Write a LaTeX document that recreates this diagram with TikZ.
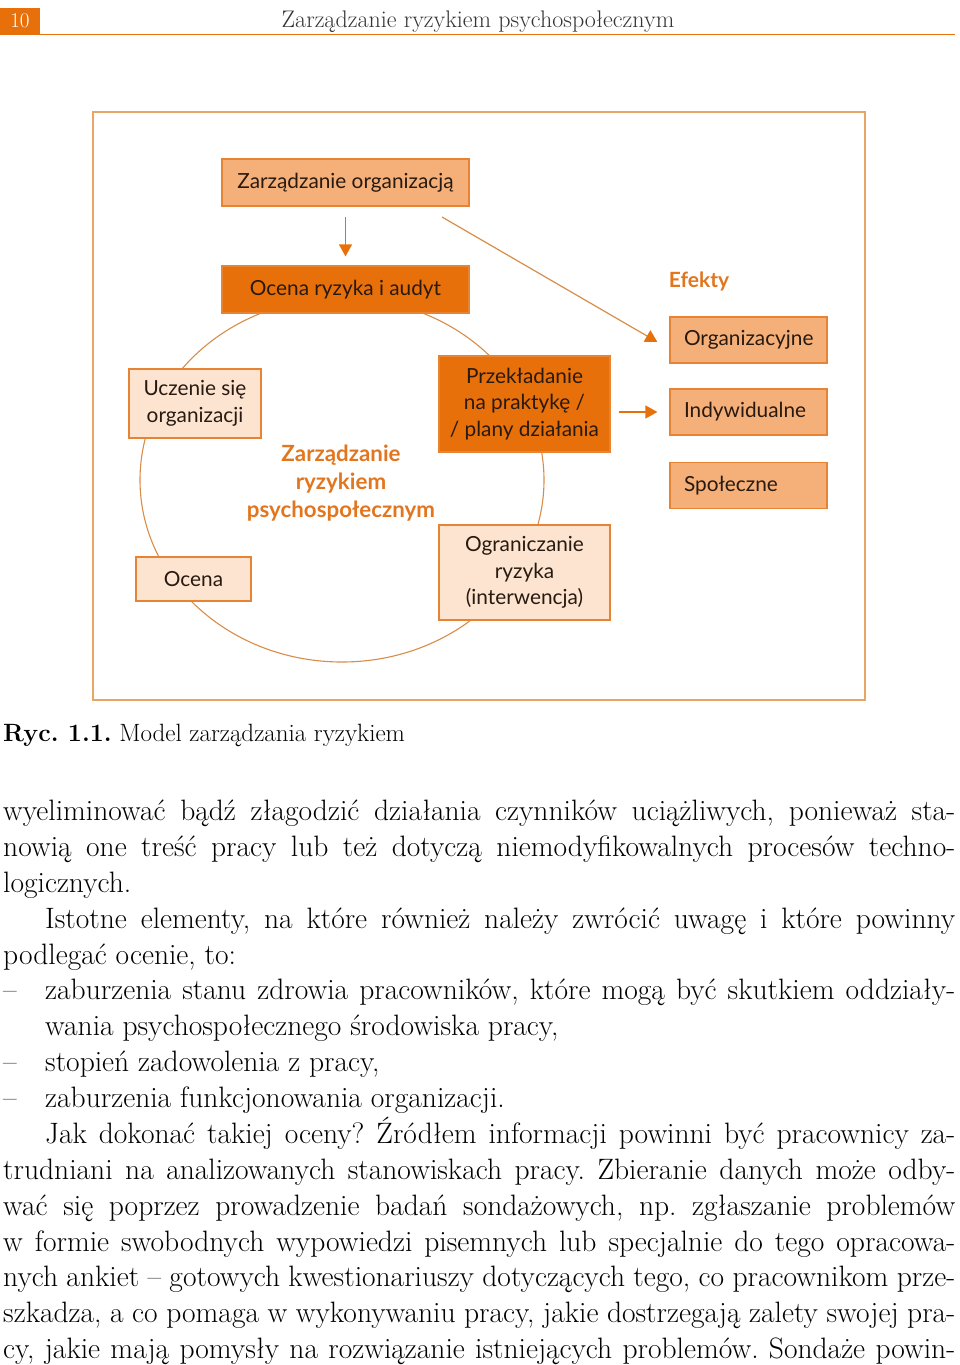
\documentclass[tikz,border=0pt]{standalone}
\usepackage{fontspec}
\newfontfamily\diagfont{Lato}
\usepackage{tikz}
\usetikzlibrary{positioning, arrows.meta}
\definecolor{orangeDark}{RGB}{232, 112, 10}
\definecolor{orangeLight}{RGB}{245, 176, 122}
\definecolor{orangePale}{RGB}{252, 228, 208}
\definecolor{boxLine}{RGB}{230, 132, 52}
\definecolor{frameLine}{RGB}{232, 165, 100}
\definecolor{ringLine}{RGB}{216, 140, 72}
\definecolor{labelOrange}{RGB}{226, 118, 30}
\definecolor{textDark}{RGB}{40, 26, 16}
\frenchspacing

\begin{document}
\begin{tikzpicture}[
    x=1pt, y=-1pt,
    base/.style={draw=boxLine, line width=1.2pt, align=center, inner sep=0pt,
                 text=textDark, font=\diagfont\fontsize{20.8}{26.5}\selectfont},
    darkbox/.style={base, fill=orangeDark},
    lightbox/.style={base, fill=orangeLight},
    palebox/.style={base, fill=orangePale},
    effbox/.style={lightbox, align=left, text width=129pt, inner xsep=14pt,
                   minimum height=46pt},
    arr/.style={-{Triangle[width=13pt,length=12pt]}, draw=orangeDark, line width=1.2pt},
    bodyline/.style={anchor=base west, inner sep=0pt, text=black,
                     font=\fontsize{29.5}{36}\selectfont},
  ]
    \useasboundingbox (0,0) rectangle (960,1365);

    % page header
    \node[fill=orangeDark, text=white, minimum width=40pt, minimum height=26pt,
          inner sep=0pt, font=\fontsize{21}{22}\selectfont] (pagenum) at (20,21) {10};
    \node[text=black!80, font=\fontsize{24}{26}\selectfont] (runhead) at (478,22)
      {Zarządzanie ryzykiem psychospołecznym};
    \draw[orangeDark, line width=1.5pt] (0,34.5) -- (955,34.5);

    % figure frame and cycle
    \draw[frameLine, line width=1.2pt] (93,112) rectangle (865,700);
    \draw[ringLine, line width=1.1pt] (342,480) ellipse [x radius=202, y radius=182];

    % boxes
    \node[lightbox, minimum width=247pt, minimum height=47pt] (org) at (345.5,182.5)
      {Zarządzanie organizacją};
    \node[darkbox, minimum width=247pt, minimum height=47pt] (audit) at (345.5,289.5)
      {Ocena ryzyka i audyt};
    \node[darkbox, minimum width=171pt, minimum height=96pt] (plan) at (524.5,404)
      {Przekładanie\\na praktykę /\\/ plany działania};
    \node[palebox, minimum width=171pt, minimum height=95pt] (limit) at (524.5,572.5)
      {Ograniczanie\\ryzyka\\(interwencja)};
    \node[palebox, minimum width=132pt, minimum height=69pt] (learn) at (195,403.5)
      {Uczenie się\\organizacji};
    \node[palebox, minimum width=115pt, minimum height=44pt] (assess) at (193.5,579)
      {Ocena};
    \node[text=labelOrange, align=center, font=\diagfont\bfseries\fontsize{22.3}{28}\selectfont]
      (core) at (341,483) {Zarządzanie\\ryzykiem\\psychospołecznym};

    % effects
    \node[text=labelOrange, font=\diagfont\bfseries\fontsize{21}{24}\selectfont]
      (effects) at (699,281) {Efekty};
    \node[effbox] (effOrg) at (748.5,340) {Organizacyjne};
    \node[effbox] (effInd) at (748.5,412) {Indywidualne};
    \node[effbox] (effSoc) at (748.5,485.5) {Społeczne};

    % arrows
    \coordinate (orgTail) at (442,217);
    \draw[arr, shorten <=10pt, shorten >=9pt] (org) -- (audit);
    \draw[-{Triangle[width=13pt,length=12pt,color=orangeDark]}, draw=ringLine, line width=1.2pt]
      (orgTail) -- ([xshift=-12pt, yshift=-2pt]effOrg.west);
    \draw[arr, shorten <=8pt, shorten >=12pt] (plan.east |- effInd.west) -- (effInd.west);

    % caption
    \node[bodyline, font=\fontsize{25}{30}\selectfont] (caption) at (3,741)
      {\textbf{Ryc. 1.1.} Model zarządzania ryzykiem};

    % body text
    \node[bodyline] (l1) at (3,820) {\makebox[952pt][s]{wyeliminować bądź złagodzić działania czynników uciążliwych, ponieważ sta-}};
    \node[bodyline] (l2) at (3,856) {\makebox[952pt][s]{nowią one treść pracy lub też dotyczą niemodyfikowalnych procesów techno-}};
    \node[bodyline] (l3) at (3,892) {logicznych.};
    \node[bodyline] (l4) at (45,928) {\makebox[910pt][s]{Istotne elementy, na które również należy zwrócić uwagę i które powinny}};
    \node[bodyline] (l5) at (3,964) {podlegać ocenie, to:};
    \node[bodyline] (d1) at (3,999) {–};
    \node[bodyline] (l6) at (45,999) {\makebox[910pt][s]{zaburzenia stanu zdrowia pracowników, które mogą być skutkiem oddziały-}};
    \node[bodyline] (l7) at (45,1035) {wania psychospołecznego środowiska pracy,};
    \node[bodyline] (d2) at (3,1071) {–};
    \node[bodyline] (l8) at (45,1071) {stopień zadowolenia z pracy,};
    \node[bodyline] (d3) at (3,1107) {–};
    \node[bodyline] (l9) at (45,1107) {zaburzenia funkcjonowania organizacji.};
    \node[bodyline] (l10) at (45,1143) {\makebox[910pt][s]{Jak dokonać takiej oceny? Źródłem informacji powinni być pracownicy za-}};
    \node[bodyline] (l11) at (3,1179) {\makebox[952pt][s]{trudniani na analizowanych stanowiskach pracy. Zbieranie danych może odby-}};
    \node[bodyline] (l12) at (3,1215) {\makebox[952pt][s]{wać się poprzez prowadzenie badań sondażowych, np. zgłaszanie problemów}};
    \node[bodyline] (l13) at (3,1251) {\makebox[952pt][s]{w formie swobodnych wypowiedzi pisemnych lub specjalnie do tego opracowa-}};
    \node[bodyline] (l14) at (3,1286) {\makebox[952pt][s]{nych ankiet – gotowych kwestionariuszy dotyczących tego, co pracownikom prze-}};
    \node[bodyline] (l15) at (3,1322) {\makebox[952pt][s]{szkadza, a co pomaga w wykonywaniu pracy, jakie dostrzegają zalety swojej pra-}};
    \node[bodyline] (l16) at (3,1358) {\makebox[952pt][s]{cy, jakie mają pomysły na rozwiązanie istniejących problemów. Sondaże powin-}};
  \end{tikzpicture}
\end{document}
